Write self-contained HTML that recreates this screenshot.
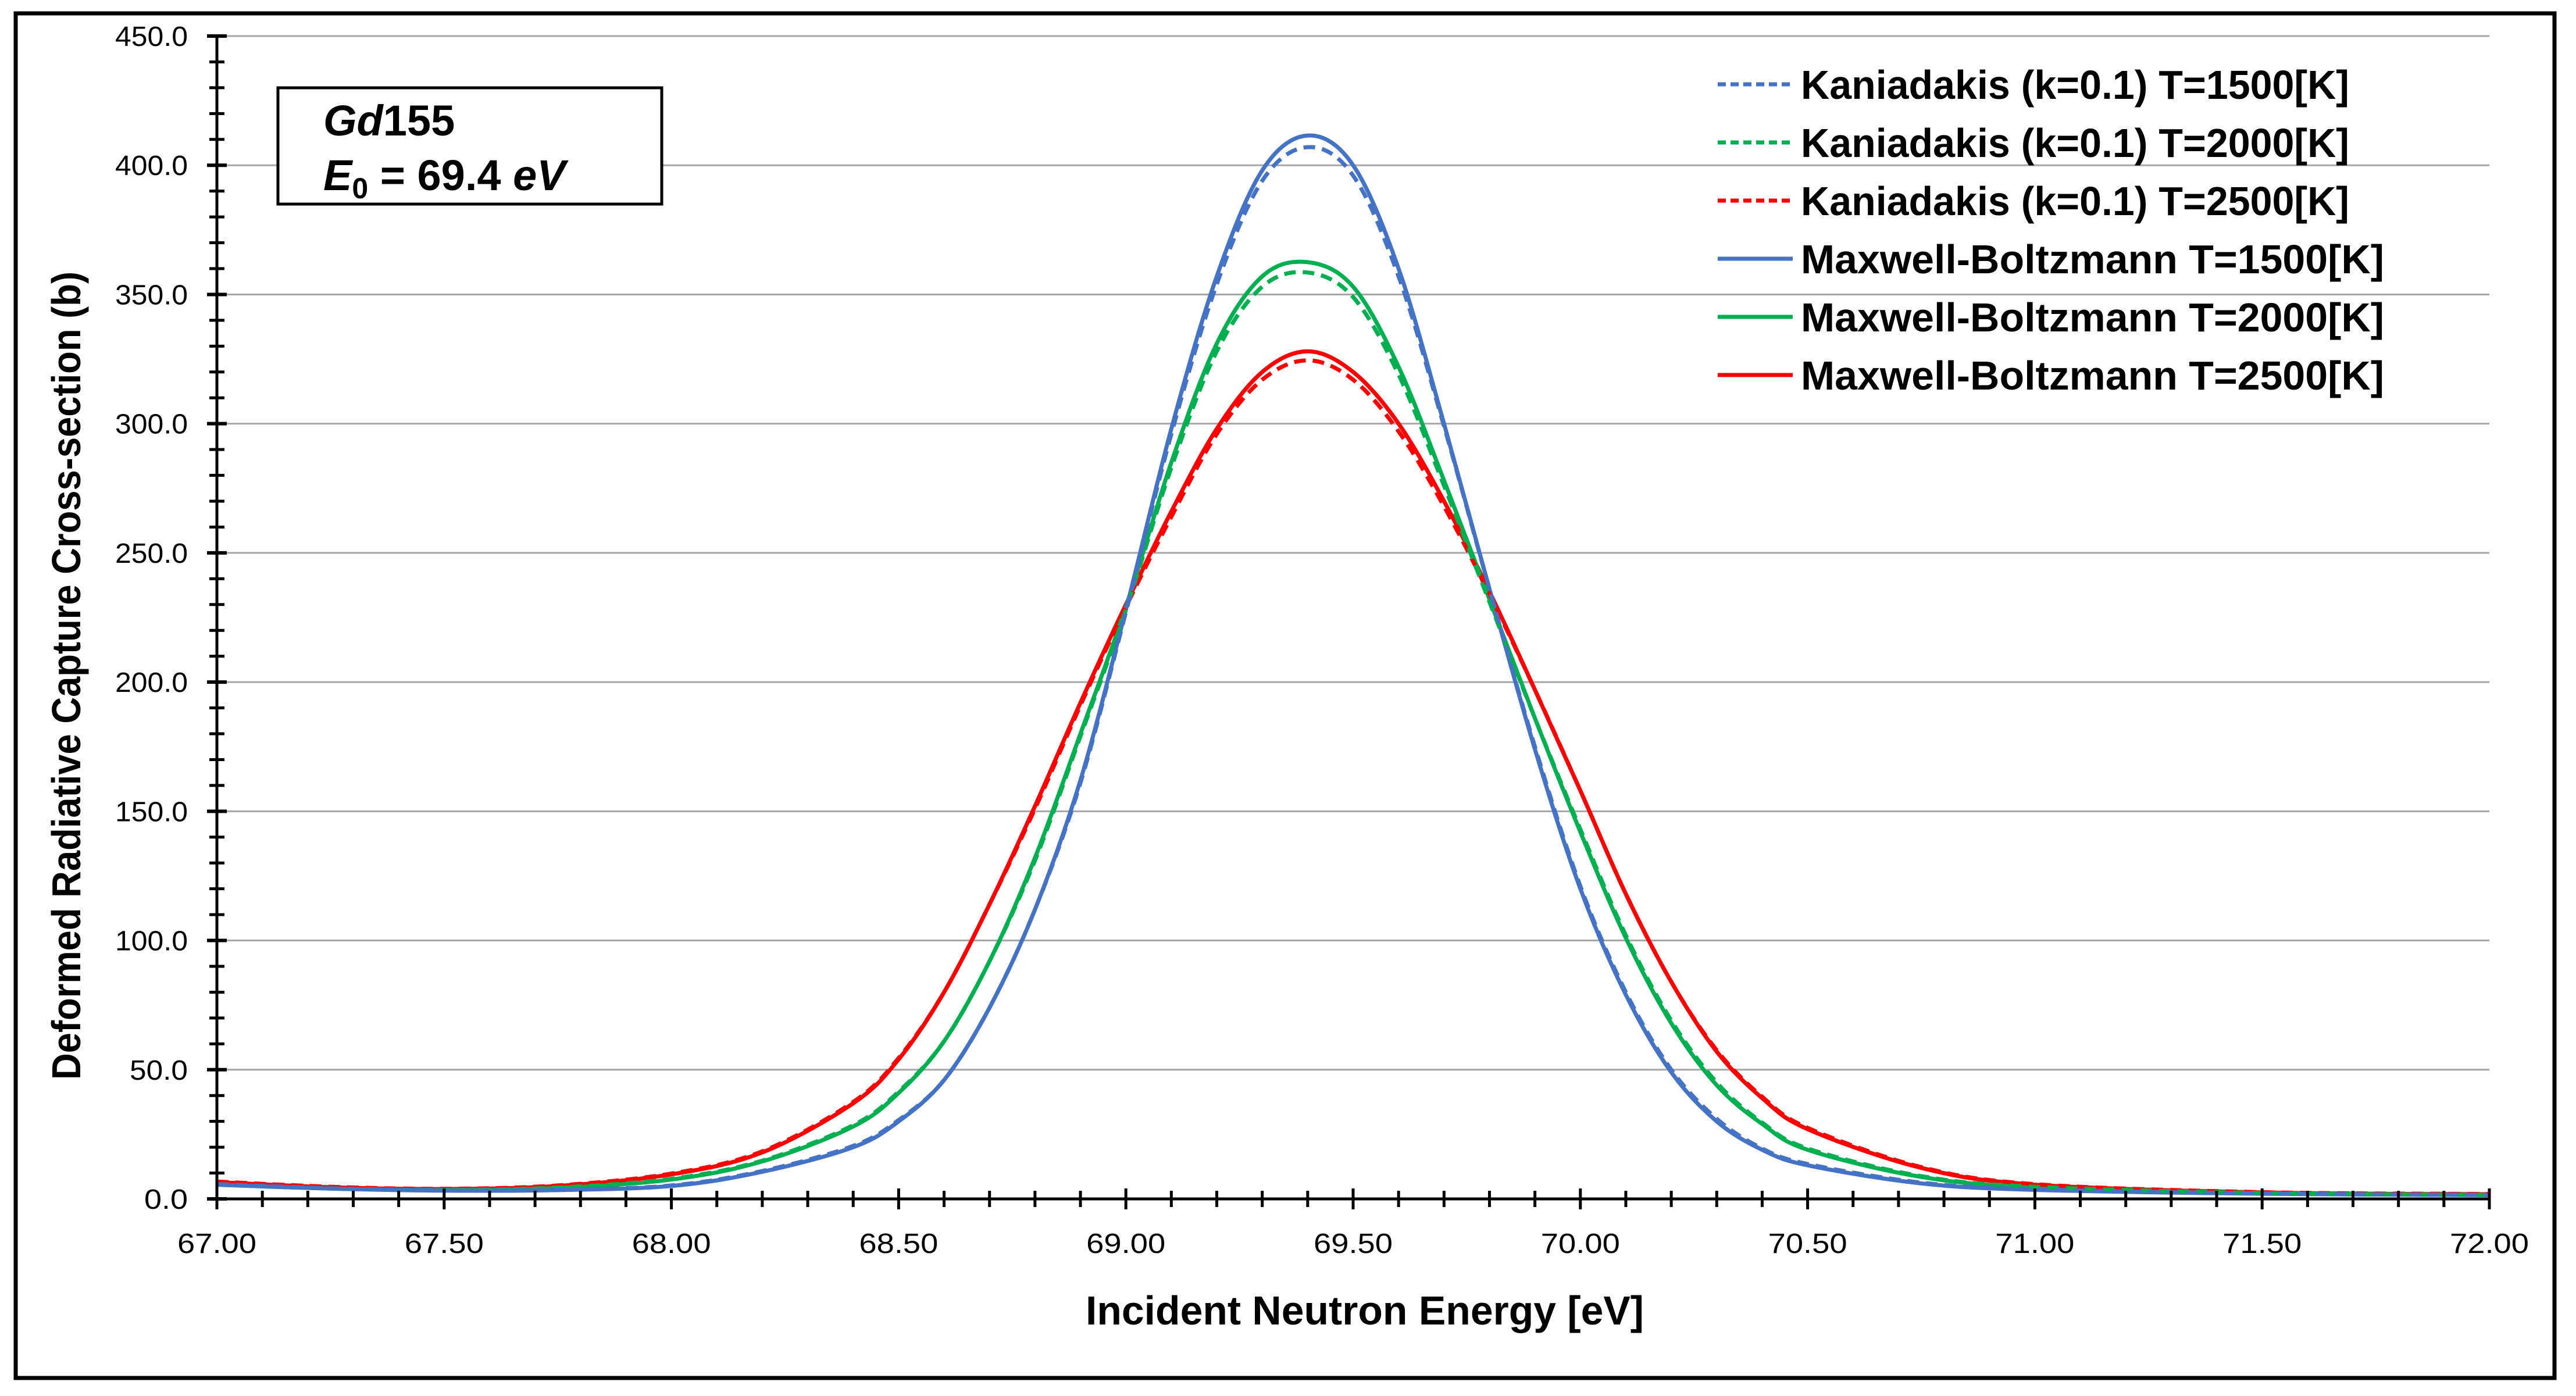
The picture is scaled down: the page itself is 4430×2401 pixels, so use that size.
<!DOCTYPE html>
<html><head><meta charset="utf-8"><style>
html,body{margin:0;padding:0;background:#fff;}
svg{display:block;}
text{font-family:"Liberation Sans",sans-serif;}
</style></head>
<body>
<svg id="chart" width="4430" height="2401" viewBox="0 0 4430 2401" xmlns="http://www.w3.org/2000/svg">
<rect x="0" y="0" width="4430" height="2401" fill="#fff"/>
<rect x="27" y="23" width="4366" height="2347" fill="none" stroke="#000" stroke-width="7"/>
<g id="grid"></g>
<g id="series"></g>
<g id="axes"></g>
<g>
<rect x="478" y="151" width="660" height="200" fill="#fff" stroke="#000" stroke-width="5"/>
<text x="556" y="233" font-family="Liberation Serif, serif" font-size="74" font-weight="bold"><tspan font-style="italic">Gd</tspan>155</text>
<text x="556" y="327" font-family="Liberation Serif, serif" font-size="74" font-weight="bold"><tspan font-style="italic">E</tspan><tspan font-size="50" dy="14">0</tspan><tspan dy="-14"> = 69.4 </tspan><tspan font-style="italic">eV</tspan></text>
</g>
<text x="2347" y="2278" text-anchor="middle" font-size="70" font-weight="bold" textLength="960" lengthAdjust="spacingAndGlyphs">Incident Neutron Energy [eV]</text>
<text transform="translate(138,1162) rotate(-90)" text-anchor="middle" font-size="70" font-weight="bold" textLength="1390" lengthAdjust="spacingAndGlyphs">Deformed Radiative Capture Cross-section (b)</text>
<g id="legend"></g>
</svg>
<script>
const xs = [67.0,67.25,67.5,67.75,68.0,68.2,68.4,68.5,68.6,68.7,68.8,68.9,69.0,69.1,69.2,69.3,69.4,69.5,69.6,69.7,69.8,69.9,70.0,70.1,70.2,70.3,70.4,70.5,70.75,71.0,71.5,72.0];
const mb1500 = [5.5,4,3.2,3.4,5,10.5,20,30,46,74,112,162,228,298,357,398,411.5,400,360,300,236,174,120,79,49,30,19,13,6,3.5,2,1.5];
const mb2000 = [5.5,4,3.4,4.2,7.5,14.5,28,41,61,92,132,180,229,285,331,357,362.5,353,322,278,232,186,142,101,68,44,29,19,8.5,4.5,2.2,1.5];
const mb2500 = [6.5,4.5,3.8,5,9.5,18,37,54,80,114,152,192,230,266,298,320,328,320,300,270,235,197,158,118,84,57,39,27,12,5.5,2.5,1.8];
const k1500 = [5.7,4.1,3.3,3.5,5.2,10.8,20.5,30.5,46,74,112,161,227,296,354,394,407,396,357,299,236,175,121,80,50,31,19.5,13.5,6.3,3.7,2.1,1.6];
const k2000 = [5.7,4.1,3.5,4.4,7.8,14.8,28.5,41.5,61,92,131,179,228,283,328,353,358.5,349,319,276,231,186,143,102,69,45,29.5,19.5,8.8,4.7,2.3,1.6];
const k2500 = [6.7,4.7,3.9,5.2,9.8,18.4,37.5,54.5,80,114,151,191,229,264,296,317,324.5,317,297,268,234,197,158,118,84,57.5,39.5,27.5,12.3,5.7,2.6,1.9];
const yTicks = ["0.0","50.0","100.0","150.0","200.0","250.0","300.0","350.0","400.0","450.0"];
const xTicks = ["67.00","67.50","68.00","68.50","69.00","69.50","70.00","70.50","71.00","71.50","72.00"];
const legendLabels = ["Kaniadakis (k=0.1) T=1500[K]","Kaniadakis (k=0.1) T=2000[K]","Kaniadakis (k=0.1) T=2500[K]","Maxwell-Boltzmann T=1500[K]","Maxwell-Boltzmann T=2000[K]","Maxwell-Boltzmann T=2500[K]"];

const NS="http://www.w3.org/2000/svg";
const X0=373, X1=4281, Y0=2062, Y1=62;
const xMin=67, xMax=72, yMin=0, yMax=450;
function sx(v){return X0+(v-xMin)/(xMax-xMin)*(X1-X0);}
function sy(v){return Y0-(v-yMin)/(yMax-yMin)*(Y0-Y1);}
function mk(tag,attrs,parent){const e=document.createElementNS(NS,tag);for(const k in attrs)e.setAttribute(k,attrs[k]);parent.appendChild(e);return e;}

const grid=document.getElementById('grid');
yTicks.forEach((t,i)=>{
  const v=parseFloat(t);
  if(v>0){
    const l=mk('line',{x1:X0,x2:X1,y1:sy(v),y2:sy(v),stroke:'#a6a6a6','stroke-width':3},grid);
    
    
  }
});

const axes=document.getElementById('axes');
const ya=mk('line',{x1:X0,x2:X0,y1:Y1,y2:Y0,stroke:'#000','stroke-width':5},axes);


const xa=mk('line',{x1:X0,x2:X1,y1:Y0,y2:Y0,stroke:'#000','stroke-width':5},axes);


for(let v=0;v<=450.01;v+=10){
  const maj=Math.abs(v%50)<0.01;
  const h=maj?17:13;
  mk('line',{x1:X0-h,x2:X0+h,y1:sy(v),y2:sy(v),stroke:'#000','stroke-width':maj?6:5},axes);
}
for(let i=0;i<=50;i++){
  const v=67+i*0.1;
  const maj=i%5===0;
  mk('line',{x1:sx(v),x2:sx(v),y1:Y0-(maj?18:14),y2:Y0+(maj?18:14),stroke:'#000','stroke-width':5},axes);
}
yTicks.forEach(t=>{
  const tx=mk('text',{x:323,y:sy(parseFloat(t))+17,'text-anchor':'end','font-size':48,textLength:t.length*25,lengthAdjust:'spacingAndGlyphs'},axes);
  tx.textContent=t;
  
  
});
xTicks.forEach(t=>{
  const tx=mk('text',{x:sx(parseFloat(t)),y:2155,'text-anchor':'middle','font-size':48,textLength:136,lengthAdjust:'spacingAndGlyphs'},axes);
  tx.textContent=t;
  
  
});

function pathFor(vals){
  const p=xs.map((x,i)=>[sx(x),sy(vals[i])]);
  let d='M'+p[0][0]+','+p[0][1];
  for(let i=0;i<p.length-1;i++){
    const p0=p[Math.max(0,i-1)],p1=p[i],p2=p[i+1],p3=p[Math.min(p.length-1,i+2)];
    const c1=[p1[0]+(p2[0]-p0[0])/6,p1[1]+(p2[1]-p0[1])/6];
    const c2=[p2[0]-(p3[0]-p1[0])/6,p2[1]-(p3[1]-p1[1])/6];
    d+=' C'+c1[0]+','+c1[1]+' '+c2[0]+','+c2[1]+' '+p2[0]+','+p2[1];
  }
  return d;
}
const seriesG=document.getElementById('series');
const defs=[
  {vals:mb2500,color:'#ff0000',dash:null,name:'series-mb-2500'},
  {vals:mb2000,color:'#00b050',dash:null,name:'series-mb-2000'},
  {vals:mb1500,color:'#4472c4',dash:null,name:'series-mb-1500'},
  {vals:k2500,color:'#ff0000',dash:'20 12',name:'series-kaniadakis-2500'},
  {vals:k2000,color:'#00b050',dash:'20 12',name:'series-kaniadakis-2000'},
  {vals:k1500,color:'#4472c4',dash:'20 12',name:'series-kaniadakis-1500'}
];
defs.forEach(s=>{
  const a={d:pathFor(s.vals),fill:'none',stroke:s.color,'stroke-width':7,'stroke-linejoin':'round'};
  if(s.dash)a['stroke-dasharray']=s.dash;
  const el=mk('path',a,seriesG);
  
  
});

const leg=document.getElementById('legend');
const legColors=['#4472c4','#00b050','#ff0000','#4472c4','#00b050','#ff0000'];
legendLabels.forEach((lab,i)=>{
  const y=145+i*100;
  const g=mk('g',{},leg);
  
  
  const a={x1:2954,x2:3083,y1:y,y2:y,stroke:legColors[i],'stroke-width':7};
  if(i<3)a['stroke-dasharray']='14 8';
  mk('line',a,g);
  const t=mk('text',{x:3097,y:y+25,'font-size':70,'font-weight':'bold',textLength:i<3?943:1003,lengthAdjust:'spacingAndGlyphs'},g);
  t.textContent=lab;
});
</script>
</body></html>
